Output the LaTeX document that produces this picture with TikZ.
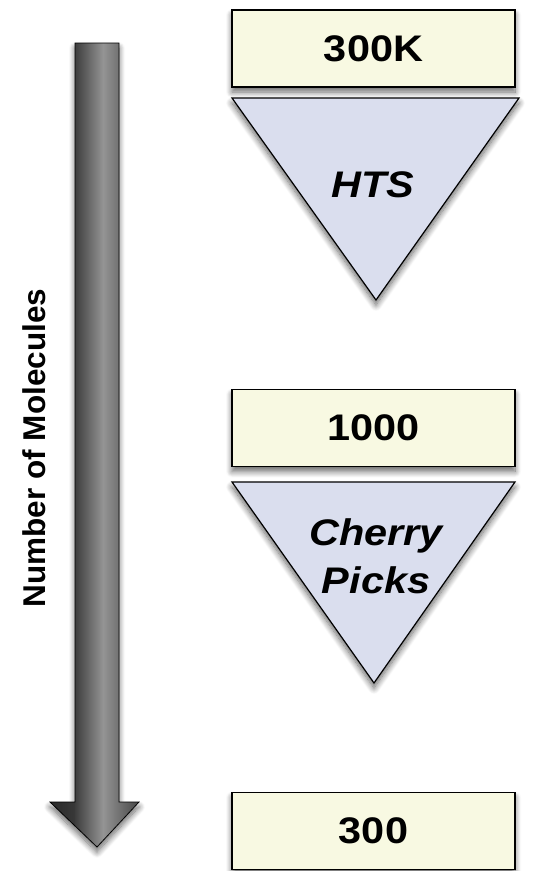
\documentclass[tikz,border=0pt]{standalone}
\usepackage{fontspec}
\setmainfont{Liberation Sans}
\usepackage{graphicx}
\usetikzlibrary{shadows.blur}
\definecolor{boxfill}{RGB}{248,249,226}
\definecolor{trifill}{RGB}{218,222,238}
\begin{document}
\begin{tikzpicture}[x=1pt,y=-1pt,
  shd/.style={blur shadow={shadow xshift=0pt, shadow yshift=-5pt, shadow blur steps=10, shadow blur radius=6pt, shadow opacity=60}},
  box/.style={draw=black, line width=1.5pt, fill=boxfill, minimum width=283pt, minimum height=77pt, inner sep=0pt, shd, font=\fontsize{37}{44}\selectfont\bfseries},
  tri/.style={draw=black, line width=1.2pt, fill=trifill, line join=miter, shd},
  lbl/.style={font=\fontsize{37}{48}\selectfont\bfseries\itshape, align=center, inner sep=0pt},
  axlbl/.style={rotate=90, font=\fontsize{31.5}{36}\selectfont\bfseries, inner sep=0pt}]
\useasboundingbox (0,0) rectangle (543,871);
% arrow
\def\arrowpath{(75,43) -- (119,43) -- (119,802) -- (139,802) -- (97,847) -- (50,802) -- (75,802) -- cycle}
\path[shd, fill=white] \arrowpath;
\begin{scope}
  \clip \arrowpath;
  \foreach \xx in {50,51,...,139}{
    \pgfmathsetmacro{\g}{\xx<75 ? 0.16+0.06*(\xx-50)/25 : (\xx<103 ? 0.24+0.34*(\xx-75)/28 : 0.58-0.30*(\xx-103)/36)}
    \definecolor{strip}{gray}{\g}
    \fill[strip] (\xx,40) rectangle (\xx+1.3,850);
  }
\end{scope}
\draw[line width=0.8pt, black] \arrowpath;
\node[axlbl] (ylabel) at (34,448) {Number of Molecules};
% boxes
\node[box] (b1) at (373.5,48.5) {\scalebox{1.12}[1]{300K}};
\node[box] (b2) at (373.5,428) {\scalebox{1.12}[1]{1000}};
\node[box] (b3) at (373.5,831) {\scalebox{1.12}[1]{300}};
% triangles
\draw[tri] (232,98) -- (519,98) -- (376,300) -- cycle;
\node[lbl] (hts) at (373,185) {\scalebox{1.12}[1]{HTS}};
\draw[tri] (232,482) -- (515,482) -- (374,683) -- cycle;
\node[lbl] (cp) at (376,556) {\scalebox{1.12}[1]{Cherry}\\\scalebox{1.12}[1]{Picks}};
\end{tikzpicture}
\end{document}
